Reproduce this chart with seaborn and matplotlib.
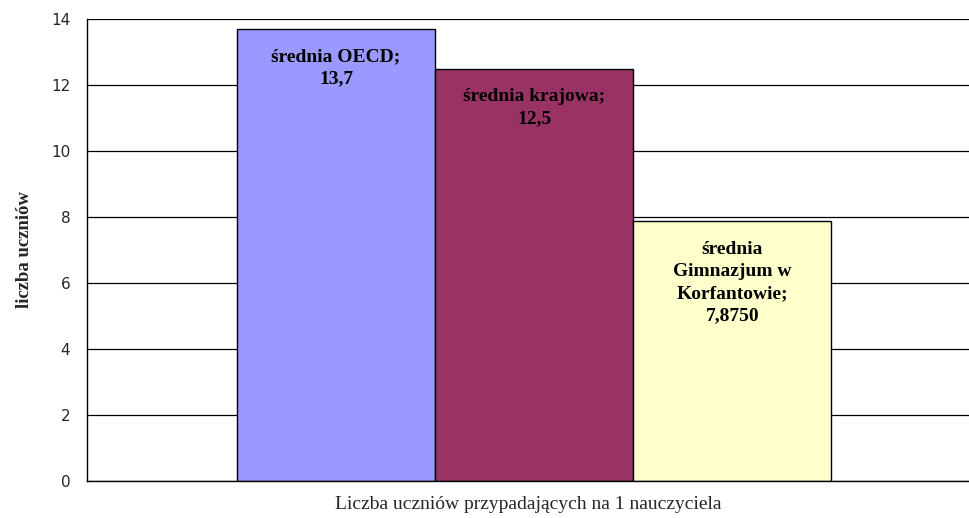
import pandas as pd
import matplotlib
matplotlib.use('Agg')
import matplotlib.pyplot as plt
import seaborn as sns

# dane
kategorie = ['Liczba uczniów przypadających na 1 nauczyciela'] * 3
serie = ['średnia OECD', 'średnia krajowa', 'średnia\nGimnazjum w\nKorfantowie']
wartosci = [13.7, 12.5, 7.875]
etykiety_wartosci = ['13,7', '12,5', '7,8750']
kolory = ['#9999FF', '#993366', '#FFFFCC']

df = pd.DataFrame({'kategoria': kategorie, 'seria': serie, 'wartosc': wartosci})

sns.set_style('white')
plt.rcParams['font.family'] = ['DejaVu Sans']

fig = plt.figure(figsize=(9.7, 5.18), dpi=100)
ax = fig.add_axes([0.0897, 0.0714, 0.9093, 0.8919])

sns.barplot(data=df, x='kategoria', y='wartosc', hue='seria', palette=kolory,
            saturation=1, edgecolor='black', linewidth=1, width=0.674,
            errorbar=None, legend=False, ax=ax)

# etykiety w słupkach
for bar, s, v in zip(ax.patches, serie, etykiety_wartosci):
    ax.annotate(s + ';\n' + v, (bar.get_x() + bar.get_width() / 2, bar.get_height()),
                xytext=(0, -14), textcoords='offset points', ha='center', va='top',
                fontsize=14, fontweight='bold', family='Liberation Serif',
                linespacing=1.4, color='black')

ax.set_ylim(0, 14)
ax.set_yticks(range(0, 15, 2))
ax.set_xlim(-0.507, 0.493)
ax.set_xticks([-0.507, 0.493])
ax.set_xticklabels(['', ''])
ax.yaxis.grid(True, color='black', linewidth=0.9)
ax.set_axisbelow(True)
for sp in ['top', 'right']:
    ax.spines[sp].set_visible(False)
ax.spines['left'].set_color('black')
ax.spines['bottom'].set_color('black')
ax.spines['left'].set_linewidth(1)
ax.spines['bottom'].set_linewidth(1)
ax.tick_params(axis='y', direction='out', length=6, width=1, color='black', labelsize=11, pad=6)
ax.tick_params(axis='x', direction='out', length=5, width=1, color='black')

ax.set_ylabel('liczba uczniów', fontsize=13.5, fontweight='bold', family='Liberation Serif', labelpad=13)
ax.set_xlabel('Liczba uczniów przypadających na 1 nauczyciela', fontsize=14,
              family='Liberation Serif', labelpad=2)

fig.savefig('out.png', dpi=100)
